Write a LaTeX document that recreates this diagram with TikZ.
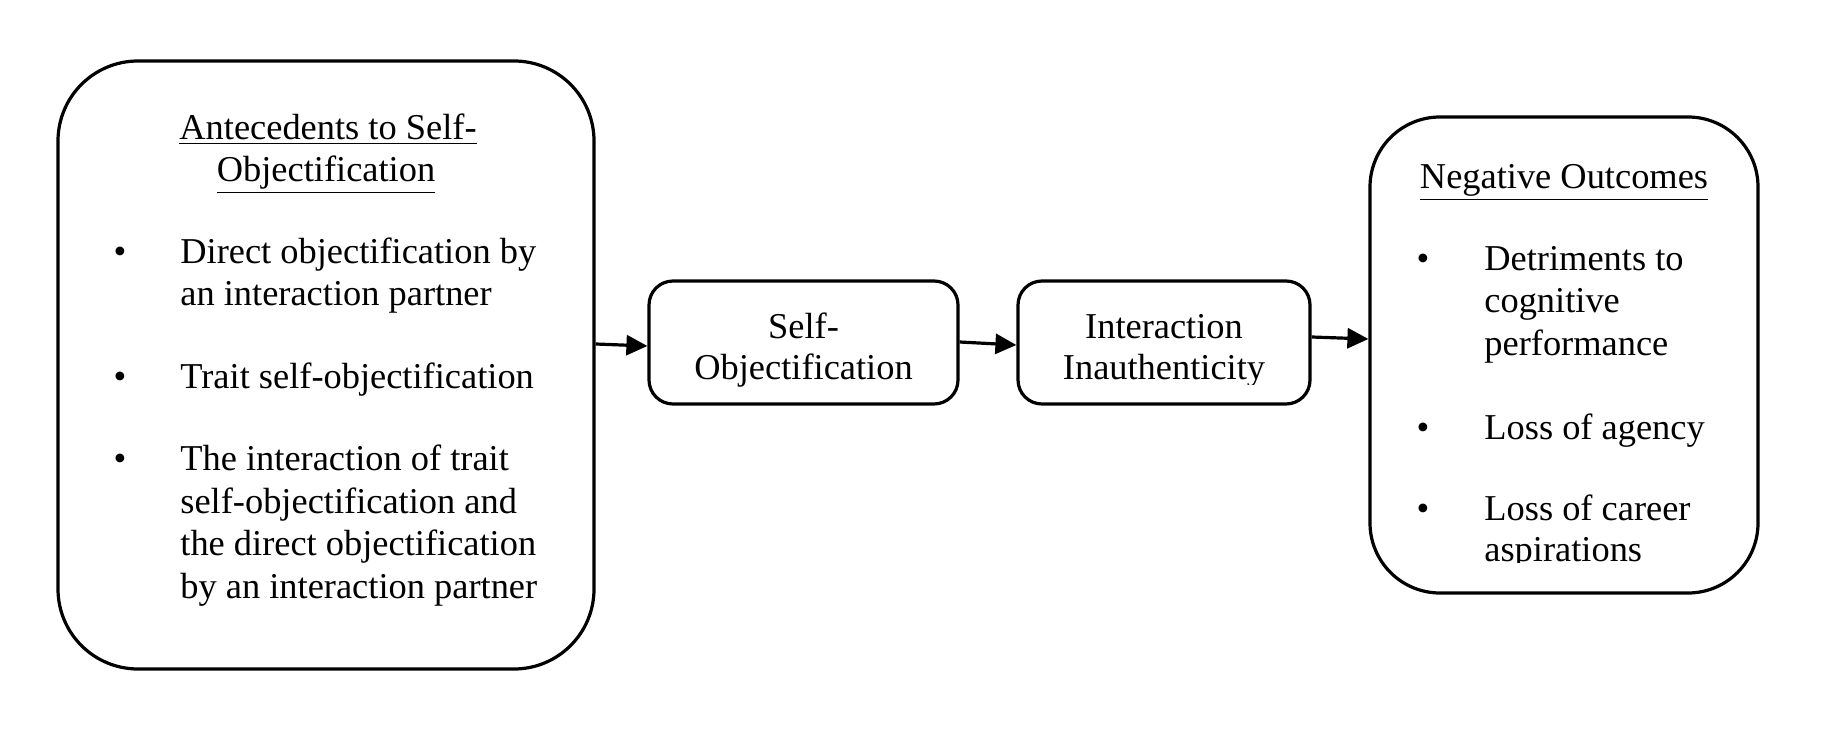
\documentclass[tikz,border=0pt]{standalone}
\usepackage{fontspec}
\setmainfont{Liberation Serif}
\usetikzlibrary{arrows.meta}
\begin{document}
\begin{tikzpicture}[x=0.5pt,y=-0.5pt,
  box/.style={draw, line width=1.6pt, inner sep=0pt},
  txt/.style={font=\fontsize{18.2}{21}\selectfont, inner sep=0pt, anchor=base west},
  ctxt/.style={font=\fontsize{18.2}{21}\selectfont, inner sep=0pt, anchor=base},
  bul/.style={font=\fontsize{18.2}{21}\selectfont, inner sep=0pt, anchor=base},
  arr/.style={line width=1.6pt, -{Triangle[length=10.5pt,width=10pt]}}]
\useasboundingbox (0,0) rectangle (1834,742);
% boxes
\node[box, rounded corners=40pt, minimum width=268pt, minimum height=304pt] (L) at (326,365) {};
\node[box, rounded corners=12pt, minimum width=154.5pt, minimum height=61.5pt] (S) at (803.5,342.5) {};
\node[box, rounded corners=12pt, minimum width=146pt, minimum height=61.5pt] (I) at (1164,342.5) {};
\node[box, rounded corners=35pt, minimum width=194pt, minimum height=238pt] (N) at (1564,355) {};
% left box text
\node[ctxt] (lt1) at (328,140) {\underline{Antecedents to Self-}};
\node[ctxt] (lt2) at (326,182) {\underline{Objectification}};
\node[bul] (lb1) at (120,264) {•};
\node[txt] (l11) at (180,264) {Direct objectification by};
\node[txt] (l12) at (180,306) {an interaction partner};
\node[bul] (lb2) at (120,389) {•};
\node[txt] (l21) at (180,389) {Trait self-objectification};
\node[bul] (lb3) at (120,471) {•};
\node[txt] (l31) at (180,471) {The interaction of trait};
\node[txt] (l32) at (180,513) {self-objectification and};
\node[txt] (l33) at (180,555) {the direct objectification};
\node[txt] (l34) at (180,598) {by an interaction partner};
% middle boxes text
\node[ctxt] (s1) at (803.5,339) {Self-};
\node[ctxt] (s2) at (803.5,380) {Objectification};
\node[ctxt] (i1) at (1164,339) {Interaction};
\begin{scope}
\clip (1018,350) rectangle (1310,385);
\node[ctxt] (i2) at (1164,380) {Inauthenticity};
\end{scope}
% right box text
\node[ctxt] (nt) at (1564,189) {\underline{Negative Outcomes}};
\node[bul] (nb1) at (1423,271) {•};
\node[txt] (n11) at (1484,271) {Detriments to};
\node[txt] (n12) at (1484,313) {cognitive};
\node[txt] (n13) at (1484,356) {performance};
\node[bul] (nb2) at (1423,439) {•};
\node[txt] (n21) at (1484,439) {Loss of agency};
\node[bul] (nb3) at (1423,520) {•};
\node[txt] (n31) at (1484,520) {Loss of career};
\begin{scope}
\clip (1400,525) rectangle (1750,562);
\node[txt] (n32) at (1484,561) {aspirations};
\end{scope}
% arrows
\draw[arr] ([yshift=10.5pt]L.east) -- ([yshift=-1.75pt]S.west);
\draw[arr] ([yshift=0.25pt]S.east) -- ([yshift=-1.25pt]I.west);
\draw[arr] ([yshift=2.75pt]I.east) -- ([yshift=8pt]N.west);
\end{tikzpicture}
\end{document}
